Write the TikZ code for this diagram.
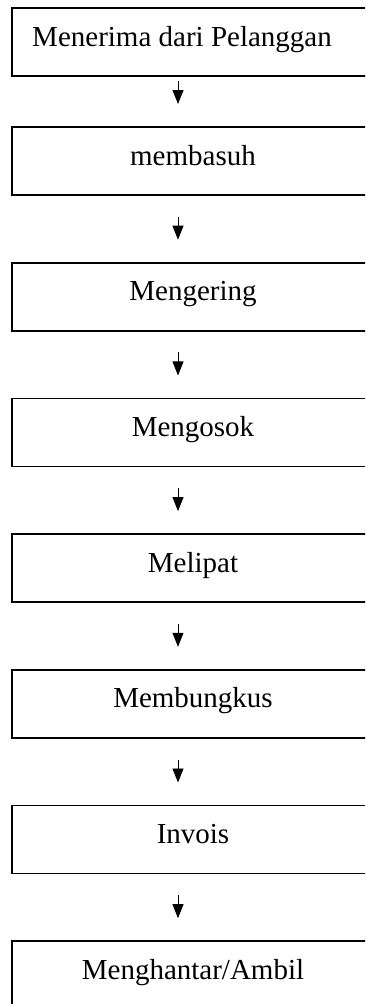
\documentclass[tikz,border=0pt]{standalone}
\usepackage{fontspec}
\setmainfont{Liberation Serif}
\usetikzlibrary{positioning,arrows.meta}

\begin{document}
\begin{tikzpicture}[
        box/.style={draw,line width=1.6pt,minimum width=362pt,inner sep=0pt,outer sep=0pt,
            text height=38pt,text depth=30pt,font=\fontsize{29}{35}\selectfont},
        flow/.style={-{Triangle[length=14pt,width=11pt]},line width=0.8pt,shorten >=23pt}
    ]

    % Page frame (the boxes run past the right and bottom edges)
    \useasboundingbox (0,0) rectangle (365pt,-1004pt);
    \clip (0,0) rectangle (365pt,-1004pt);

    % Steps
    \node[box] (b1) at (193pt,-42pt) {Menerima dari Pelanggan\hspace*{22pt}};
    \node[box,below=51pt of b1] (b2) {membasuh};
    \foreach \name/\prev/\txt in {b3/b2/Mengering, b4/b3/Mengosok, b5/b4/Melipat,
        b6/b5/Membungkus, b7/b6/Invois, b8/b7/Menghantar\slash Ambil}
        \node[box,below=67.7pt of \prev] (\name) {\txt};

    % Arrows (slightly left of the box centre)
    \draw[flow,shorten <=5pt] ([xshift=-15pt]b1.south) -- ([xshift=-15pt]b2.north);
    \foreach \i [evaluate=\i as \j using int(\i+1)] in {2,...,7}
        \draw[flow,shorten <=21.7pt] ([xshift=-15pt]b\i.south) -- ([xshift=-15pt]b\j.north);

\end{tikzpicture}
\end{document}
